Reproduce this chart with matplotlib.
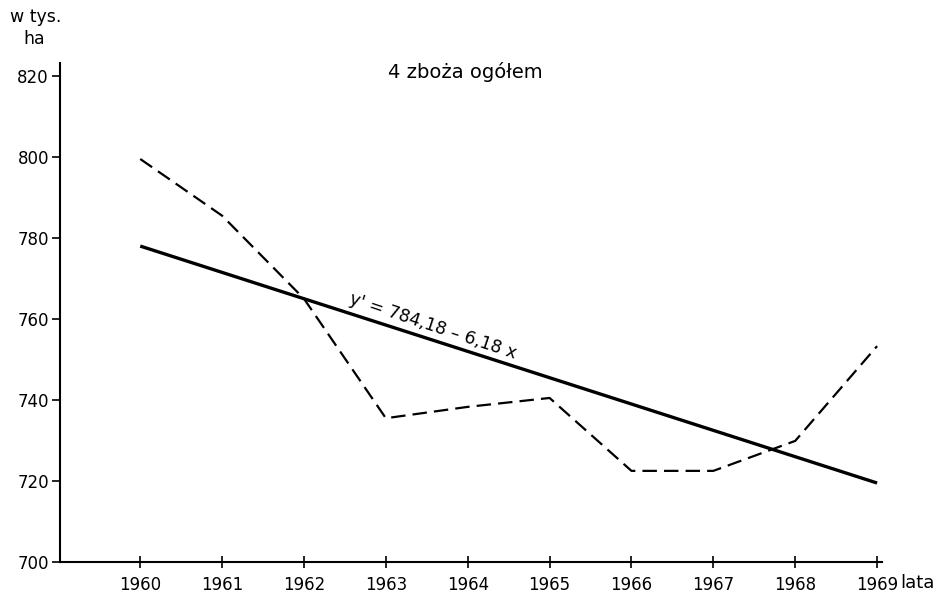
import matplotlib
matplotlib.use("Agg")
import matplotlib.pyplot as plt

years = [1960, 1961, 1962, 1963, 1964, 1965, 1966, 1967, 1968, 1969]
actual = [799.5, 785.5, 765.0, 735.5, 738.3, 740.5, 722.5, 722.5, 729.9, 753.3]
trend_years = [1960, 1969]
trend_values = [778.0, 719.5]
y_ticks = [700, 720, 740, 760, 780, 800, 820]

title = "4 zboża ogółem"
equation = "y' = 784,18 – 6,18 x"
xlabel = "lata"

plt.rcParams['font.family'] = ['DejaVu Sans']

fig = plt.figure(figsize=(9.51, 5.95), dpi=100)
ax = fig.add_axes([60/951, 1-562/595, (882-60)/951, (562-63)/595])

ax.plot(years, actual, color='black', lw=1.6, linestyle=(0, (6.5, 3.2)))
ax.plot(trend_years, trend_values, color='black', lw=2.4, solid_capstyle='butt')

ax.set_xlim(1959.02, 1969.06)
ax.set_ylim(700, 823.2)
ax.set_xticks(years)
ax.set_yticks(y_ticks)
ax.set_xticklabels([str(y) for y in years], fontsize=12)
ax.set_yticklabels([str(v) for v in y_ticks], fontsize=12)
ax.tick_params(axis='y', direction='out', length=6, width=1.2, pad=2)
ax.tick_params(axis='x', direction='inout', length=8, width=1.2, pad=6)

for s in ['top', 'right']:
    ax.spines[s].set_visible(False)
for s in ['left', 'bottom']:
    ax.spines[s].set_linewidth(1.5)

fig.text(465/951, 1-72/595, title, ha='center', va='center', fontsize=14)
fig.text(36/951, 1-17/595, "w tys.", ha='center', va='center', fontsize=12.5)
fig.text(34/951, 1-39/595, "ha", ha='center', va='center', fontsize=12.5)
fig.text(917/951, 1-583/595, xlabel, ha='center', va='center', fontsize=13)

# equation label placed just above the trend line
x_eq = 1963.55
slope = (trend_values[1] - trend_values[0]) / (trend_years[1] - trend_years[0])
y_eq = trend_values[0] + slope * (x_eq - trend_years[0]) + 2.0
ax.text(x_eq, y_eq, equation, ha='center', va='baseline', fontsize=12.5,
        rotation=-18.5, rotation_mode='anchor')

fig.savefig("out.png", dpi=100)
